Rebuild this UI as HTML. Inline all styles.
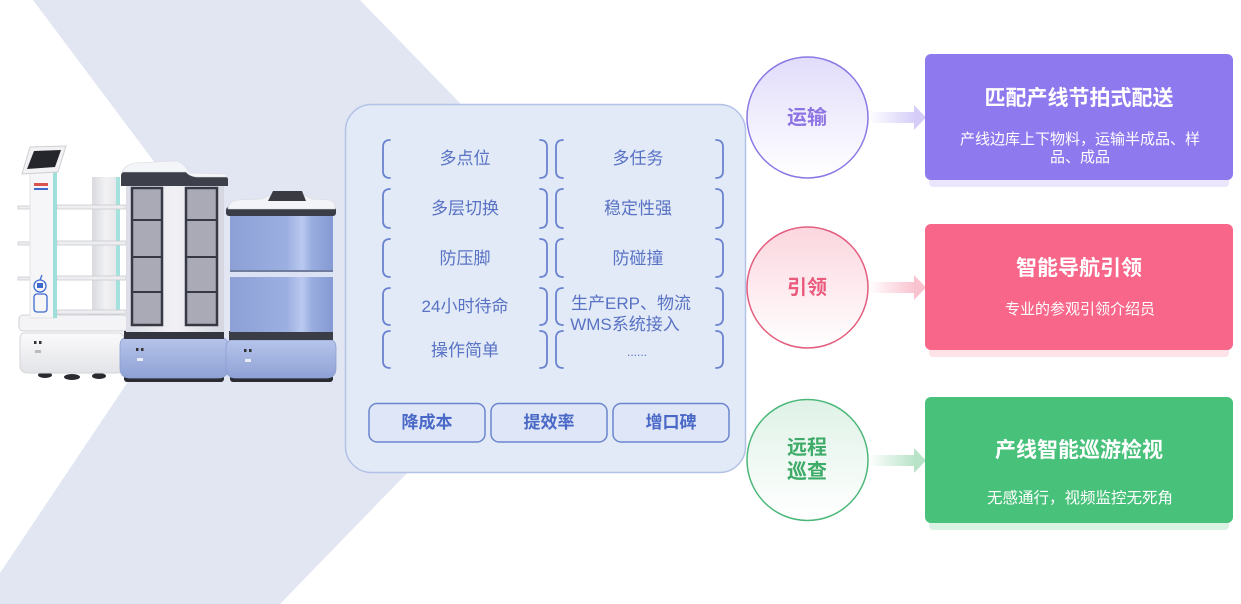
<!DOCTYPE html>
<html><head><meta charset="utf-8">
<style>
html,body{margin:0;padding:0;background:#fff;}
body{width:1241px;height:604px;overflow:hidden;position:relative;}
svg{position:absolute;left:0;top:0;}
text{font-family:"Liberation Sans","Noto Sans CJK SC",sans-serif;}
</style></head><body>
<svg width="1241" height="604" viewBox="0 0 1241 604" xmlns="http://www.w3.org/2000/svg">
<defs>
  <linearGradient id="cPur" x1="0" y1="0" x2="0" y2="1"><stop offset="0" stop-color="#e1dcfb"/><stop offset="1" stop-color="#ffffff"/></linearGradient>
  <linearGradient id="cPink" x1="0" y1="0" x2="0" y2="1"><stop offset="0" stop-color="#fcd6df"/><stop offset="1" stop-color="#ffffff"/></linearGradient>
  <linearGradient id="cGreen" x1="0" y1="0" x2="0" y2="1"><stop offset="0" stop-color="#dff2e7"/><stop offset="1" stop-color="#ffffff"/></linearGradient>
  <linearGradient id="aPur" x1="0" y1="0" x2="1" y2="0"><stop offset="0" stop-color="#d5cdf8" stop-opacity="0"/><stop offset="1" stop-color="#d5cdf8"/></linearGradient>
  <linearGradient id="aPink" x1="0" y1="0" x2="1" y2="0"><stop offset="0" stop-color="#f9c2cf" stop-opacity="0"/><stop offset="1" stop-color="#f9c2cf"/></linearGradient>
  <linearGradient id="aGreen" x1="0" y1="0" x2="1" y2="0"><stop offset="0" stop-color="#b8e3c8" stop-opacity="0"/><stop offset="1" stop-color="#b8e3c8"/></linearGradient>
  <linearGradient id="wbase" x1="0" y1="0" x2="0" y2="1"><stop offset="0" stop-color="#fafafb"/><stop offset="1" stop-color="#e3e4e8"/></linearGradient>
  <linearGradient id="wcol" x1="0" y1="0" x2="1" y2="0"><stop offset="0" stop-color="#d9dadf"/><stop offset="0.5" stop-color="#f2f2f4"/><stop offset="1" stop-color="#e2e3e7"/></linearGradient>
  <linearGradient id="cab" x1="0" y1="0" x2="1" y2="0"><stop offset="0" stop-color="#dcdde6"/><stop offset="0.5" stop-color="#f1f1f5"/><stop offset="1" stop-color="#d5d6e0"/></linearGradient>
  <linearGradient id="bbase" x1="0" y1="0" x2="0" y2="1"><stop offset="0" stop-color="#b6c4ea"/><stop offset="1" stop-color="#8fa2d6"/></linearGradient>
  <linearGradient id="drawer" x1="0" y1="0" x2="1" y2="0"><stop offset="0" stop-color="#8ca0d6"/><stop offset="0.55" stop-color="#9cafe1"/><stop offset="0.7" stop-color="#bac9ef"/><stop offset="0.8" stop-color="#98acdf"/><stop offset="1" stop-color="#859ad3"/></linearGradient>
</defs>

<!-- background chevron -->
<polygon points="33,0 360,0 613,261 280,604 0,604 0,573 218,247" fill="#e2e6f2"/>

<!-- ===== Robot 1 (white) ===== -->
<g fill="#2a2b30">
  <ellipse cx="45" cy="375" rx="7" ry="3"/>
  <ellipse cx="72" cy="377" rx="8" ry="3"/>
  <ellipse cx="99" cy="376" rx="7" ry="3"/>
</g>
<path d="M24 333 H118 Q124 333 124 340 V365 Q124 373 116 373 H28 Q20 373 20 365 V340 Q20 333 24 333Z" fill="url(#wbase)" stroke="#d4d5da"/>
<rect x="34" y="341" width="2.5" height="3" fill="#333"/><rect x="39" y="341" width="2.5" height="3" fill="#333"/>
<rect x="35" y="350" width="6" height="3" fill="#bbb"/>
<rect x="92" y="177" width="28" height="140" fill="url(#wcol)"/>
<rect x="116" y="177" width="4" height="140" fill="#a6e2dd"/>
<g fill="#eeeef1" stroke="#c9cad0" stroke-width="0.8">
  <rect x="57" y="205" width="69" height="4"/>
  <rect x="57" y="241" width="69" height="4"/>
  <rect x="57" y="276" width="69" height="4"/>
  <rect x="57" y="310" width="69" height="4"/>
  <rect x="18" y="206" width="12" height="3"/>
  <rect x="18" y="242" width="12" height="3"/>
  <rect x="18" y="277" width="12" height="3"/>
</g>
<rect x="19" y="315" width="108" height="16" rx="4" fill="#f4f4f6" stroke="#d1d2d8"/>
<rect x="30" y="170" width="26" height="148" fill="#f6f6f8" stroke="#e0e0e5" stroke-width="0.8"/>
<rect x="53" y="170" width="4" height="148" fill="#9fdfd9"/>
<rect x="34" y="183" width="14" height="3" fill="#d9534f"/>
<rect x="34" y="188" width="14" height="2" fill="#3e6ad0"/>
<g fill="none" stroke="#3e6ad0" stroke-width="1.3">
  <circle cx="40" cy="286" r="6"/>
  <rect x="34" y="294" width="13" height="18" rx="3"/>
  <line x1="40" y1="280" x2="42" y2="275"/>
</g>
<rect x="37" y="283" width="6" height="5" fill="#3e6ad0"/>
<polygon points="22,174 58,172 66,146 30,147" fill="#f2f2f4" stroke="#cfcfd5"/>
<polygon points="27,169 55,167 61,150 34,151" fill="#25262c"/>

<!-- ===== Robot 2 (cabinet) ===== -->
<rect x="124" y="375" width="100" height="7" rx="3" fill="#2c2d33"/>
<path d="M126 338 H222 Q228 338 228 346 V368 Q228 378 218 378 H130 Q120 378 120 368 V346 Q120 338 126 338Z" fill="url(#bbase)" stroke="#8c9fd3" stroke-width="0.8"/>
<rect x="136" y="348" width="2.5" height="3" fill="#333"/><rect x="141" y="348" width="2.5" height="3" fill="#333"/>
<rect x="137" y="358" width="6" height="3" fill="#e8ecf7"/>
<rect x="124" y="331" width="100" height="8" fill="#34363f"/>
<rect x="126" y="184" width="98" height="148" fill="url(#cab)"/>
<g fill="#a9aab6" stroke="#363844" stroke-width="2.5">
  <rect x="132" y="188" width="30" height="137"/>
  <rect x="186" y="188" width="31" height="137"/>
</g>
<g stroke="#363844" stroke-width="2">
  <line x1="132" y1="220" x2="162" y2="220"/><line x1="132" y1="257" x2="162" y2="257"/><line x1="132" y1="292" x2="162" y2="292"/>
  <line x1="186" y1="220" x2="217" y2="220"/><line x1="186" y1="257" x2="217" y2="257"/><line x1="186" y1="292" x2="217" y2="292"/>
</g>
<path d="M121 186 V176 Q121 171 127 171 H186 Q189 176 196 176 H223 Q228 176 228 180 V186 Z" fill="#3d3f4a"/>
<path d="M122 173 Q124 165 135 163 L174 161 Q182 161 187 169 L190 173 L224 174 Q228 175 227 177 L196 177 Q189 176 186 172 L122 172 Z" fill="#f4f5f8" stroke="#d8d9e0" stroke-width="0.6"/>

<!-- ===== Robot 3 (blue drawers) ===== -->
<rect x="230" y="375" width="103" height="7" rx="3" fill="#2c2d33"/>
<path d="M232 340 H330 Q336 340 336 348 V368 Q336 378 326 378 H236 Q226 378 226 368 V348 Q226 340 232 340Z" fill="url(#bbase)" stroke="#8c9fd3" stroke-width="0.8"/>
<rect x="244" y="349" width="2.5" height="3" fill="#333"/><rect x="249" y="349" width="2.5" height="3" fill="#333"/>
<rect x="245" y="359" width="6" height="3" fill="#e8ecf7"/>
<rect x="229" y="331" width="104" height="9" fill="#3a3c46"/>
<rect x="230" y="277" width="103" height="55" fill="url(#drawer)"/>
<rect x="230" y="269" width="103" height="8" fill="#dbe2f4"/>
<line x1="230" y1="271" x2="333" y2="271" stroke="#4d5a82" stroke-width="1.5"/>
<rect x="230" y="214" width="103" height="56" fill="url(#drawer)"/>
<rect x="226" y="207" width="110" height="9" rx="3" fill="#3a3c47"/>
<path d="M228 209 Q229 201 238 200 L262 199 L268 196 H306 L312 199 L330 200 Q336 202 335 209 Z" fill="#f3f4f7" stroke="#d6d8df" stroke-width="0.6"/>
<polygon points="268,201 306,201 302,191 273,191" fill="#3a3b42"/>

<!-- ===== Central panel ===== -->
<rect x="345.5" y="104.5" width="400" height="368" rx="26" fill="#e3eaf7" stroke="#b2c2e6" stroke-width="1.5"/>

<g fill="none" stroke="#6a83cf" stroke-width="1.8" stroke-linecap="round">
  <!-- rows: y ranges -->
  <path d="M390 140 Q383 140 383 147 V171 Q383 178 390 178"/>
  <path d="M540 140 Q547 140 547 147 V171 Q547 178 540 178"/>
  <path d="M563 140 Q556 140 556 147 V171 Q556 178 563 178"/>
  <path d="M716 140 Q723 140 723 147 V171 Q723 178 716 178"/>

  <path d="M390 189 Q383 189 383 196 V221 Q383 228 390 228"/>
  <path d="M540 189 Q547 189 547 196 V221 Q547 228 540 228"/>
  <path d="M563 189 Q556 189 556 196 V221 Q556 228 563 228"/>
  <path d="M716 189 Q723 189 723 196 V221 Q723 228 716 228"/>

  <path d="M390 239 Q383 239 383 246 V270 Q383 277 390 277"/>
  <path d="M540 239 Q547 239 547 246 V270 Q547 277 540 277"/>
  <path d="M563 239 Q556 239 556 246 V270 Q556 277 563 277"/>
  <path d="M716 239 Q723 239 723 246 V270 Q723 277 716 277"/>

  <path d="M390 288 Q383 288 383 295 V318 Q383 325 390 325"/>
  <path d="M540 288 Q547 288 547 295 V318 Q547 325 540 325"/>
  <path d="M563 288 Q556 288 556 295 V318 Q556 325 563 325"/>
  <path d="M716 288 Q723 288 723 295 V318 Q723 325 716 325"/>

  <path d="M390 331 Q383 331 383 338 V361 Q383 368 390 368"/>
  <path d="M540 331 Q547 331 547 338 V361 Q547 368 540 368"/>
  <path d="M563 331 Q556 331 556 338 V361 Q556 368 563 368"/>
  <path d="M716 331 Q723 331 723 338 V361 Q723 368 716 368"/>
</g>

<g fill="#5872c4" font-size="17" text-anchor="middle">
  <text x="465" y="164">多点位</text>
  <text x="638" y="164">多任务</text>
  <text x="465" y="214">多层切换</text>
  <text x="638" y="214">稳定性强</text>
  <text x="465" y="264">防压脚</text>
  <text x="638" y="264">防碰撞</text>
  <text x="465" y="312">24小时待命</text>
  <text x="631" y="309">生产ERP、物流</text>
  <text x="625" y="330">WMS系统接入</text>
  <text x="465" y="356">操作简单</text>
  <text x="637" y="356" font-size="12">......</text>
</g>

<g fill="#dfe6f7" stroke="#6b85cf" stroke-width="1.5">
  <rect x="369" y="403.5" width="116" height="38.5" rx="8"/>
  <rect x="491" y="403.5" width="116" height="38.5" rx="8"/>
  <rect x="613" y="403.5" width="116" height="38.5" rx="8"/>
</g>
<g fill="#4a68c6" font-size="17" font-weight="bold" text-anchor="middle">
  <text x="427" y="428">降成本</text>
  <text x="549" y="428">提效率</text>
  <text x="671" y="428">增口碑</text>
</g>

<!-- ===== Right side ===== -->
<!-- row 1 -->
<circle cx="807.5" cy="117.5" r="60.5" fill="url(#cPur)" stroke="#8a78e4" stroke-width="1.5"/>
<text x="807" y="124" font-size="20" font-weight="bold" fill="#8d74e2" text-anchor="middle">运输</text>
<rect x="868" y="112" width="48" height="11" fill="url(#aPur)"/>
<polygon points="914,105 926,117.5 914,130" fill="#d5cdf8"/>
<rect x="929" y="174" width="300" height="13" rx="4" fill="#ebe6fc"/>
<rect x="925" y="54" width="308" height="126" rx="6" fill="#8f79ee"/>
<text x="1079" y="105" font-size="21" font-weight="bold" fill="#ffffff" text-anchor="middle">匹配产线节拍式配送</text>
<text x="1080" y="144" font-size="15" fill="#ffffff" text-anchor="middle">产线边库上下物料，运输半成品、样</text>
<text x="1080" y="162" font-size="15" fill="#ffffff" text-anchor="middle">品、成品</text>

<!-- row 2 -->
<circle cx="807.5" cy="287.5" r="60.5" fill="url(#cPink)" stroke="#e35d7e" stroke-width="1.5"/>
<text x="807" y="294" font-size="20" font-weight="bold" fill="#ea5a7c" text-anchor="middle">引领</text>
<rect x="868" y="282" width="48" height="11" fill="url(#aPink)"/>
<polygon points="914,275 926,287.5 914,300" fill="#f9c2cf"/>
<rect x="929" y="344" width="300" height="13" rx="4" fill="#fde2e8"/>
<rect x="925" y="224" width="308" height="126" rx="6" fill="#f8678a"/>
<text x="1079" y="275" font-size="21" font-weight="bold" fill="#ffffff" text-anchor="middle">智能导航引领</text>
<text x="1080" y="314" font-size="15" fill="#ffffff" text-anchor="middle">专业的参观引领介绍员</text>

<!-- row 3 -->
<circle cx="807.5" cy="460" r="60.5" fill="url(#cGreen)" stroke="#4cb87a" stroke-width="1.5"/>
<text x="807" y="454" font-size="20" font-weight="bold" fill="#3eac68" text-anchor="middle">远程</text>
<text x="807" y="478" font-size="20" font-weight="bold" fill="#3eac68" text-anchor="middle">巡查</text>
<rect x="868" y="455" width="48" height="11" fill="url(#aGreen)"/>
<polygon points="914,448 926,460.5 914,473" fill="#b8e3c8"/>
<rect x="929" y="518" width="300" height="12" rx="4" fill="#daf2e3"/>
<rect x="925" y="397" width="308" height="126" rx="6" fill="#48c17a"/>
<text x="1079" y="457" font-size="21" font-weight="bold" fill="#ffffff" text-anchor="middle">产线智能巡游检视</text>
<text x="1080" y="503" font-size="15.5" fill="#ffffff" text-anchor="middle">无感通行，视频监控无死角</text>
</svg>
</body></html>
